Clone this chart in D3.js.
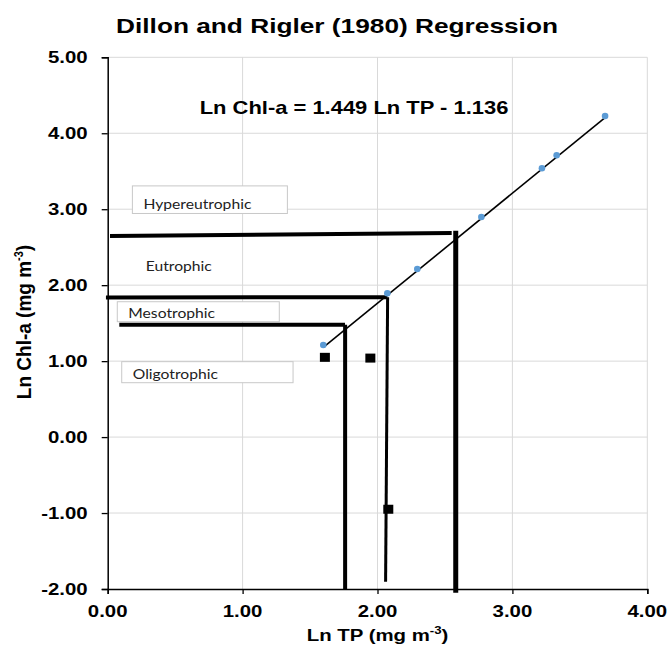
<!DOCTYPE html>
<html>
<head>
<meta charset="utf-8">
<script src="https://cdn.jsdelivr.net/npm/d3@7"></script>
<style>
  body { margin: 0; background: #fff; }
  svg { display: block; }
</style>
</head>
<body>
<svg width="670" height="645"></svg>
<script>
// lake data (ln values)
var lnTP  = [1.598, 2.073, 2.295, 2.770, 3.219, 3.328, 3.687];
var lnChl = [1.212, 1.893, 2.213, 2.898, 3.540, 3.710, 4.227];

// black square markers
var sqTP  = [1.61, 1.947, 2.08];
var sqChl = [1.05, 1.04, -0.95];

// regression  Ln Chl-a = 1.449 Ln TP - 1.136
var slope = 1.449, intercept = -1.136;

// trophic boundary lines (data units)
var bounds = [
    [[-0.013, 1.838], [2.073, 1.842]],
    [[2.075, 1.840], [2.060, -1.904]],
    [[0.017, 2.647], [2.550, 2.687]],
    [[2.580, 2.716], [2.580, -2.050]],
    [[0.086, 1.480], [1.759, 1.480]],
    [[1.760, 1.480], [1.760, -2.000]]
];

// label boxes: name, x0, x1, yTop, yBottom (data units)
var labelNames = ['Hypereutrophic', 'Eutrophic', 'Mesotrophic', 'Oligotrophic'];
var labelX0 = [0.183, 0.20, 0.071, 0.104];
var labelX1 = [1.332, 1.20, 1.272, 1.374];
var labelYT = [3.307, 2.45, 1.782, 0.993];
var labelYB = [2.944, 2.14, 1.519, 0.716];
var labelBox = [true, false, true, true];

var xTicks = [0, 1, 2, 3, 4];
var yTicks = [-2, -1, 0, 1, 2, 3, 4, 5];

var ScaleX = d3.scaleLinear().domain([0, 4]).range([107.7, 647.3]);
var ScaleY = d3.scaleLinear().domain([-2, 5]).range([589, 57.3]);

var svg = d3.select('svg');
var fmt = function(d){ return d.toFixed(2); };

// grid
svg.append('g').selectAll('line')
    .data(xTicks.slice(1))
    .enter().append('line')
    .attr('x1', function(d){ return ScaleX(d); })
    .attr('x2', function(d){ return ScaleX(d); })
    .attr('y1', ScaleY(5)).attr('y2', ScaleY(-2))
    .attr('stroke', '#d9d9d9').attr('stroke-width', 1);
svg.append('g').selectAll('line')
    .data(yTicks.slice(1))
    .enter().append('line')
    .attr('x1', ScaleX(0)).attr('x2', ScaleX(4))
    .attr('y1', function(d){ return ScaleY(d); })
    .attr('y2', function(d){ return ScaleY(d); })
    .attr('stroke', '#d9d9d9').attr('stroke-width', 1);

// axes
var xAxis = svg.append('g')
    .attr('transform', 'translate(0,' + ScaleY(-2) + ')')
    .call(d3.axisBottom(ScaleX).tickValues(xTicks).tickSize(5).tickFormat(''));
var yAxis = svg.append('g')
    .attr('transform', 'translate(' + ScaleX(0) + ',0)')
    .call(d3.axisLeft(ScaleY).tickValues(yTicks).tickSize(6).tickFormat(''));
[xAxis, yAxis].forEach(function(a){
    a.select('.domain').attr('stroke', '#000').attr('stroke-width', 1.5);
    a.selectAll('.tick line').attr('stroke', '#000').attr('stroke-width', 1.3);
});

// tick labels (stretched a bit like the original)
svg.append('g').selectAll('text')
    .data(xTicks)
    .enter().append('text')
    .attr('transform', function(d){ return 'translate(' + ScaleX(d) + ',' + (ScaleY(-2) + 28) + ') scale(1.2,1)'; })
    .attr('text-anchor', 'middle')
    .attr('font-family', 'Liberation Sans, Arial, sans-serif')
    .attr('font-weight', 'bold').attr('font-size', 17)
    .text(fmt);
svg.append('g').selectAll('text')
    .data(yTicks)
    .enter().append('text')
    .attr('transform', function(d){ return 'translate(' + (ScaleX(0) - 20) + ',' + (ScaleY(d) + 6) + ') scale(1.2,1)'; })
    .attr('text-anchor', 'end')
    .attr('font-family', 'Liberation Sans, Arial, sans-serif')
    .attr('font-weight', 'bold').attr('font-size', 17)
    .text(fmt);

// trophic labels
var idx = function(d){ return labelNames.indexOf(d); };
var lab = svg.append('g').selectAll('g')
    .data(labelNames)
    .enter().append('g');
lab.filter(function(d){ return labelBox[idx(d)]; })
    .append('rect')
    .attr('x', function(d){ return ScaleX(labelX0[idx(d)]); })
    .attr('y', function(d){ return ScaleY(labelYT[idx(d)]); })
    .attr('width', function(d){ return ScaleX(labelX1[idx(d)]) - ScaleX(labelX0[idx(d)]); })
    .attr('height', function(d){ return ScaleY(labelYB[idx(d)]) - ScaleY(labelYT[idx(d)]); })
    .attr('fill', '#fff').attr('stroke', '#c8c8c8').attr('stroke-width', 1);
lab.append('text')
    .attr('transform', function(d){
        var i = idx(d);
        return 'translate(' + (ScaleX(labelX0[i]) + 11) + ',' + (ScaleY(labelYB[i]) - 4) + ') scale(1.12,1)';
    })
    .attr('font-family', 'Lato, Carlito, Calibri, sans-serif')
    .attr('font-size', 14).attr('fill', '#222')
    .text(function(d){ return d; });

// boundary lines
var bw = [4, 3, 4, 5, 4, 4];
svg.append('g').selectAll('line')
    .data(bounds)
    .enter().append('line')
    .attr('x1', function(d){ return ScaleX(d[0][0]); })
    .attr('y1', function(d){ return ScaleY(d[0][1]); })
    .attr('x2', function(d){ return ScaleX(d[1][0]); })
    .attr('y2', function(d){ return ScaleY(d[1][1]); })
    .attr('stroke', '#000')
    .attr('stroke-width', function(d, i){ return bw[i]; });

// regression line over the data range
var xr = d3.extent(lnTP);
svg.append('line')
    .attr('x1', ScaleX(xr[0])).attr('y1', ScaleY(slope * xr[0] + intercept))
    .attr('x2', ScaleX(xr[1])).attr('y2', ScaleY(slope * xr[1] + intercept))
    .attr('stroke', '#000').attr('stroke-width', 1.6);

// points
svg.append('g').selectAll('circle')
    .data(lnTP)
    .enter().append('circle')
    .attr('cx', function(d){ return ScaleX(d); })
    .attr('cy', function(d, i){ return ScaleY(lnChl[i]); })
    .attr('r', 3.3)
    .attr('fill', '#5b9bd5');

// squares
svg.append('g').selectAll('rect')
    .data(sqTP)
    .enter().append('rect')
    .attr('x', function(d){ return ScaleX(d) - 5; })
    .attr('y', function(d, i){ return ScaleY(sqChl[i]) - 4.5; })
    .attr('width', 10).attr('height', 9)
    .attr('fill', '#000');

// title
svg.append('text')
    .attr('transform', 'translate(337,33) scale(1.25,1)')
    .attr('text-anchor', 'middle')
    .attr('font-family', 'Liberation Sans, Arial, sans-serif')
    .attr('font-weight', 'bold').attr('font-size', 21)
    .text('Dillon and Rigler (1980) Regression');

// equation
svg.append('text')
    .attr('transform', 'translate(354,114) scale(1.22,1)')
    .attr('text-anchor', 'middle')
    .attr('font-family', 'Liberation Sans, Arial, sans-serif')
    .attr('font-weight', 'bold').attr('font-size', 18)
    .text('Ln Chl-a = 1.449 Ln TP - 1.136');

// axis titles
var xt = svg.append('text')
    .attr('transform', 'translate(' + ScaleX(2) + ',641) scale(1.2,1)')
    .attr('text-anchor', 'middle')
    .attr('font-family', 'Liberation Sans, Arial, sans-serif')
    .attr('font-weight', 'bold').attr('font-size', 17);
xt.append('tspan').text('Ln TP (mg m');
xt.append('tspan').attr('dy', -7).attr('font-size', 11).text('-3');
xt.append('tspan').attr('dy', 7).text(')');

var yt = svg.append('text')
    .attr('transform', 'translate(31,322) rotate(-90) scale(1,1.1)')
    .attr('text-anchor', 'middle')
    .attr('font-family', 'Liberation Sans, Arial, sans-serif')
    .attr('font-weight', 'bold').attr('font-size', 19);
yt.append('tspan').text('Ln Chl-a (mg m');
yt.append('tspan').attr('dy', -7).attr('font-size', 11).text('-3');
yt.append('tspan').attr('dy', 7).text(')');
</script>
</body>
</html>
